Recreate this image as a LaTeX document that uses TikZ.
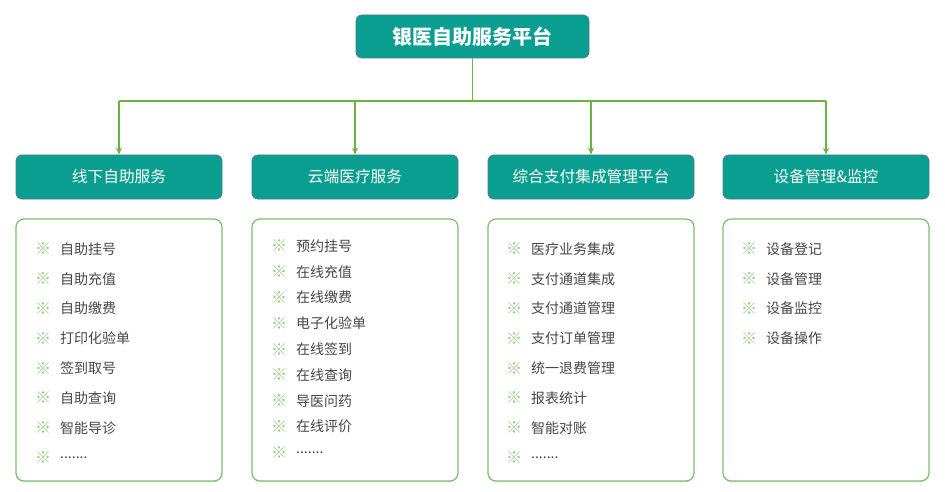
\documentclass[tikz,border=0pt]{standalone}
\usepackage{fontspec}
\setmainfont{Noto Sans CJK SC}
\usetikzlibrary{arrows.meta,shadows}
\definecolor{teal1}{HTML}{0A9E90}
\definecolor{edgeblue}{HTML}{4F7A96}
\definecolor{lgreen}{HTML}{7CC16A}
\definecolor{lineg}{HTML}{6DB33F}
\definecolor{mark}{HTML}{8FCF7E}
\definecolor{itemtxt}{HTML}{474747}
\newcommand\myddots{.......}
\begin{document}
\begin{tikzpicture}[x=1pt,y=-1pt,
  topbox/.style={draw=edgeblue,line width=0.8pt,fill=teal1,rounded corners=6pt,minimum width=233pt,minimum height=43pt,text=white,font=\fontsize{20}{24}\selectfont\bfseries,inner sep=0pt},
  headbox/.style={draw=edgeblue,line width=0.8pt,fill=teal1,rounded corners=6pt,minimum width=206pt,minimum height=44pt,text=white,font=\fontsize{15.7}{19}\selectfont,inner sep=0pt},
  listbox/.style={draw=lgreen,line width=1.2pt,fill=white,rounded corners=8pt,minimum width=206pt,minimum height=262pt,inner sep=0pt,drop shadow={shadow xshift=0pt,shadow yshift=-1.2pt,opacity=0.25}},
  conn/.style={draw=lineg,line width=1.2pt},
  arr/.style={conn,-{Stealth[length=7pt,width=6pt]}},
  mk/.style={text=mark,font=\fontsize{16}{18}\selectfont,inner sep=0pt},
  itm/.style={text=itemtxt,font=\fontsize{14}{17}\selectfont,inner sep=0pt,anchor=west}
]
\useasboundingbox (0,0) rectangle (945,492);
\fill[white] (0,0) rectangle (945,492);

\node[topbox] (top) at (472.5,36.5) {银医自助服务平台};

\node[headbox] (h1) at (119,177) {线下自助服务};
\node[headbox] (h2) at (355,177) {云端医疗服务};
\node[headbox] (h3) at (591,177) {综合支付集成管理平台};
\node[headbox] (h4) at (826,177) {设备管理\&监控};

\coordinate (j) at (472.5,101);
\coordinate (j1) at (119,101);
\coordinate (j2) at (355,101);
\coordinate (j3) at (591,101);
\coordinate (j4) at (826,101);
\draw[conn] (top.south) -- (j);
\draw[conn] (j1) -- (j4);
\draw[arr] (j1) -- (h1.north);
\draw[arr] (j2) -- (h2.north);
\draw[arr] (j3) -- (h3.north);
\draw[arr] (j4) -- (h4.north);

\node[listbox] (b1) at (119,350) {};
\node[listbox] (b2) at (355,350) {};
\node[listbox] (b3) at (591,350) {};
\node[listbox] (b4) at (826,350) {};

% column 1
\foreach \t [count=\i] in {自助挂号,自助充值,自助缴费,打印化验单,签到取号,自助查询,智能导诊,\myddots}{
  \pgfmathsetmacro{\yy}{249+(\i-1)*29.8}
  \node[mk] (m1-\i) at (43,\yy) {※};
  \node[itm] (t1-\i) at (60,\yy) {\t};
}
% column 2
\foreach \t [count=\i] in {预约挂号,在线充值,在线缴费,电子化验单,在线签到,在线查询,导医问药,在线评价,\myddots}{
  \pgfmathsetmacro{\yy}{246+(\i-1)*25.8}
  \node[mk] (m2-\i) at (279,\yy) {※};
  \node[itm] (t2-\i) at (296,\yy) {\t};
}
% column 3
\foreach \t [count=\i] in {医疗业务集成,支付通道集成,支付通道管理,支付订单管理,统一退费管理,报表统计,智能对账,\myddots}{
  \pgfmathsetmacro{\yy}{249+(\i-1)*29.8}
  \node[mk] (m3-\i) at (514,\yy) {※};
  \node[itm] (t3-\i) at (531,\yy) {\t};
}
% column 4
\foreach \t [count=\i] in {设备登记,设备管理,设备监控,设备操作}{
  \pgfmathsetmacro{\yy}{249+(\i-1)*29.8}
  \node[mk] (m4-\i) at (749,\yy) {※};
  \node[itm] (t4-\i) at (766,\yy) {\t};
}
\end{tikzpicture}
\end{document}
